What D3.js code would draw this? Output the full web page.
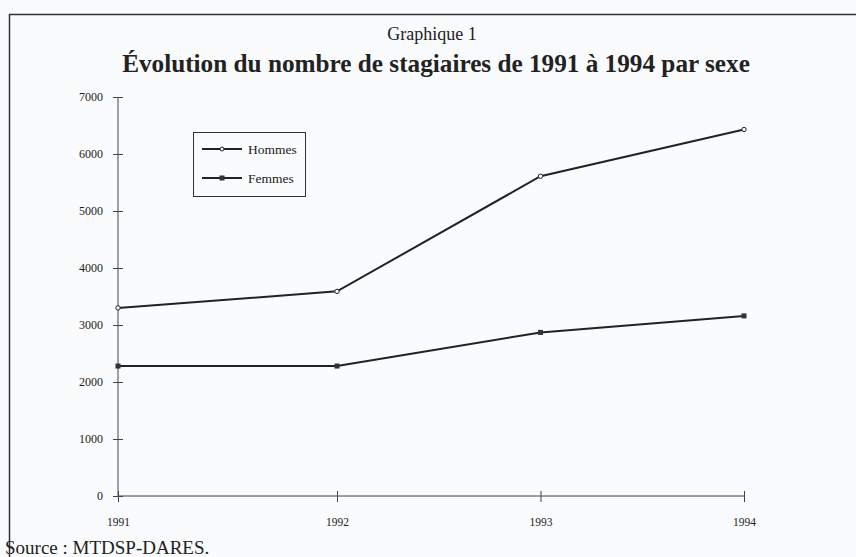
<!DOCTYPE html>
<html><head><meta charset="utf-8">
<script src="https://cdn.jsdelivr.net/npm/d3@7/dist/d3.min.js"></script>
<style>
html,body{margin:0;padding:0;background:#f9fbfc;}
svg{display:block;}
</style></head>
<body>
<svg id="chart" width="856" height="557"></svg>
<script>
const years = [1991, 1992, 1993, 1994];
const hommes = [3300, 3590, 5610, 6430];
const femmes = [2280, 2280, 2870, 3160];
const yTicks = [0, 1000, 2000, 3000, 4000, 5000, 6000, 7000];
const seriesNames = ["Hommes", "Femmes"];
const title1 = "Graphique 1";
const title2 = "Évolution du nombre de stagiaires de 1991 à 1994 par sexe";
const sourceText = "Source : MTDSP-DARES.";

const svg = d3.select("#chart");
const ink = "#222";
const serif = "'Liberation Serif','Times New Roman',serif";

// frame
svg.append("path").attr("d","M9.5,557 L9.5,14.5 L856,14.5")
  .attr("fill","none").attr("stroke","#333").attr("stroke-width",1.5);

// titles
svg.append("text").attr("x",432).attr("y",40).attr("text-anchor","middle")
  .attr("font-family",serif).attr("font-size",18).attr("fill",ink).text(title1);
const t2 = svg.append("text").attr("x",436).attr("y",72).attr("text-anchor","middle")
  .attr("font-family",serif).attr("font-weight","bold").attr("font-size",20).attr("fill",ink).text(title2);
const w2 = t2.node().getComputedTextLength();
t2.attr("font-size", 20*628/w2);

const x = d3.scaleLinear().domain([1991,1992,1994]).range([118,337,744]);
const y = d3.scaleLinear().domain([0,7000]).range([496,97]);

// y axis
const gy = svg.append("g").attr("transform","translate(118,0)")
  .call(d3.axisLeft(y).tickValues(yTicks).tickSize(5).tickPadding(10).tickFormat(d3.format("d")));
gy.selectAll(".tick line").attr("x1",5).attr("x2",-5);
gy.select(".domain").attr("d","M0,"+y(7000)+"V"+y(0)).attr("stroke","#444");
gy.selectAll("line").attr("stroke","#444");
gy.selectAll("text").attr("font-family",serif).attr("font-size",12).attr("fill",ink);

// x axis
const gx = svg.append("g").attr("transform","translate(0,496)")
  .call(d3.axisBottom(x).tickValues(years).tickSize(6).tickPadding(16).tickFormat(d3.format("d")));
gx.selectAll(".tick line").attr("y1",-5).attr("y2",6);
gx.select(".domain").attr("d","M"+x(1991)+",0H"+x(1994)).attr("stroke","#444");
gx.selectAll("line").attr("stroke","#444");
gx.selectAll("text").attr("font-family",serif).attr("font-size",11.5).attr("fill",ink);

const line = d3.line().x((d,i)=>x(years[i])).y(d=>y(d));
svg.append("path").datum(hommes).attr("d",line).attr("fill","none").attr("stroke",ink).attr("stroke-width",2);
svg.append("path").datum(femmes).attr("d",line).attr("fill","none").attr("stroke",ink).attr("stroke-width",2);

svg.selectAll(".mh").data(hommes).join("circle")
  .attr("cx",(d,i)=>x(years[i])).attr("cy",d=>y(d)).attr("r",2.2)
  .attr("fill","#f9fbfc").attr("stroke",ink).attr("stroke-width",1);
svg.selectAll(".mf").data(femmes).join("rect")
  .attr("x",(d,i)=>x(years[i])-2.5).attr("y",d=>y(d)-2.5).attr("width",5).attr("height",5)
  .attr("fill","#333");

// legend
svg.append("rect").attr("x",193.5).attr("y",132.5).attr("width",112).attr("height",64)
  .attr("fill","none").attr("stroke","#333").attr("stroke-width",1);
const lg = [{n:seriesNames[0],y:149},{n:seriesNames[1],y:178}];
lg.forEach((l,i)=>{
  svg.append("line").attr("x1",202).attr("x2",242).attr("y1",l.y).attr("y2",l.y)
    .attr("stroke",ink).attr("stroke-width",2);
  if(i===0) svg.append("circle").attr("cx",222).attr("cy",l.y).attr("r",2).attr("fill","#f9fbfc").attr("stroke",ink);
  else svg.append("rect").attr("x",219.5).attr("y",l.y-2.5).attr("width",5).attr("height",5).attr("fill","#333");
  svg.append("text").attr("x",248).attr("y",l.y+4.5).attr("font-family",serif).attr("font-size",13.5)
    .attr("fill",ink).text(l.n);
});

// source
svg.append("text").attr("x",5).attr("y",554).attr("font-family",serif).attr("font-size",19)
  .attr("fill",ink).text(sourceText);
</script>
</body></html>
